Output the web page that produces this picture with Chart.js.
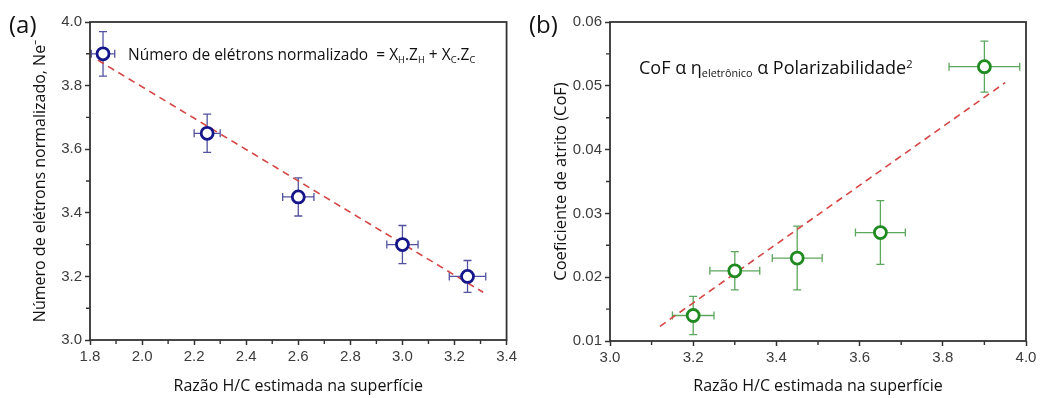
<!DOCTYPE html>
<html>
<head>
<meta charset="utf-8">
<script src="https://cdn.jsdelivr.net/npm/chart.js@4.4.1/dist/chart.umd.min.js"></script>
<style>
  body { margin:0; background:#fff; width:1048px; height:398px; overflow:hidden; position:relative; font-family:'Open Sans', sans-serif; }
  .painel { position:absolute; top:0; height:398px; }
  #painelA { left:0; width:520px; }
  #painelB { left:520px; width:528px; }
  .letra { position:absolute; font-size:24px; color:#111; line-height:1; }
  .nota { position:absolute; color:#111; white-space:nowrap; line-height:1; }
  .nota sub { font-size:60%; vertical-align:-0.3em; }
  .nota sup { font-size:62%; vertical-align:0.5em; }
</style>
</head>
<body>
<div class="painel" id="painelA"><canvas id="graficoA"></canvas></div>
<div class="painel" id="painelB"><canvas id="graficoB"></canvas></div>
<div class="letra" style="left:9px;top:12px">(a)</div>
<div class="letra" style="left:529px;top:12px">(b)</div>
<div class="nota" style="left:128px;top:47px;font-size:15.5px">Número de elétrons normalizado &nbsp;= X<sub>H</sub>.Z<sub>H</sub> + X<sub>C</sub>.Z<sub>C</sub></div>
<div class="nota" style="left:639px;top:58px;font-size:18px">CoF α η<sub>eletrônico</sub> α Polarizabilidade<sup>2</sup></div>
<script>
// (a) número de elétrons normalizado x razão H/C
var razaoA = [1.85, 2.25, 2.60, 3.00, 3.25];
var eletronsA = [3.90, 3.65, 3.45, 3.30, 3.20];
var erroXA = [0.045, 0.05, 0.06, 0.06, 0.07];
var erroYA = [0.07, 0.06, 0.06, 0.06, 0.05];
var ajusteXA = [1.83, 3.31];
var ajusteYA = [3.88, 3.15];

// (b) coeficiente de atrito x razão H/C
var razaoB = [3.20, 3.30, 3.45, 3.65, 3.90];
var cofB = [0.014, 0.021, 0.023, 0.027, 0.053];
var erroXB = [0.05, 0.06, 0.06, 0.06, 0.085];
var erroYB = [0.003, 0.003, 0.005, 0.005, 0.004];
var ajusteXB = [3.12, 3.95];
var ajusteYB = [0.0123, 0.0505];

var tituloX = 'Razão H/C estimada na superfície';

// barras de erro (desenhadas antes dos pontos)
var barrasErro = {
    id: 'barrasErro',
    beforeDatasetsDraw: function(chart, args, o) {
        var ctx = chart.ctx, sx = chart.scales.x, sy = chart.scales.y;
        ctx.save();
        ctx.strokeStyle = o.cor;
        ctx.lineWidth = 1.3;
        o.xs.forEach(function(v, i) {
            var px = sx.getPixelForValue(v), py = sy.getPixelForValue(o.ys[i]);
            var x1 = sx.getPixelForValue(v - o.ex[i]), x2 = sx.getPixelForValue(v + o.ex[i]);
            var y1 = sy.getPixelForValue(o.ys[i] + o.ey[i]), y2 = sy.getPixelForValue(o.ys[i] - o.ey[i]);
            var c = 4;
            ctx.beginPath();
            ctx.moveTo(x1, py); ctx.lineTo(x2, py);
            ctx.moveTo(px, y1); ctx.lineTo(px, y2);
            ctx.moveTo(x1, py - c); ctx.lineTo(x1, py + c);
            ctx.moveTo(x2, py - c); ctx.lineTo(x2, py + c);
            ctx.moveTo(px - c, y1); ctx.lineTo(px + c, y1);
            ctx.moveTo(px - c, y2); ctx.lineTo(px + c, y2);
            ctx.stroke();
        });
        ctx.restore();
    }
};

// moldura + ticks menores
var moldura = {
    id: 'moldura',
    afterDraw: function(chart, args, o) {
        var ctx = chart.ctx, a = chart.chartArea, sx = chart.scales.x, sy = chart.scales.y;
        ctx.save();
        ctx.strokeStyle = '#333';
        ctx.lineWidth = 1.8;
        ctx.strokeRect(a.left, a.top, a.right - a.left, a.bottom - a.top);
        ctx.lineWidth = 1.4;
        ctx.beginPath();
        for (var v = sx.min + o.menorX; v < sx.max; v += 2 * o.menorX) {
            var p = sx.getPixelForValue(v);
            ctx.moveTo(p, a.bottom); ctx.lineTo(p, a.bottom + 4);
        }
        for (var w = sy.min + o.menorY; w < sy.max; w += 2 * o.menorY) {
            var q = sy.getPixelForValue(w);
            ctx.moveTo(a.left, q); ctx.lineTo(a.left - 4, q);
        }
        ctx.stroke();
        ctx.restore();
    }
};

function eixo(min, max, passo, casas, titulo, pad, tam, fonte) {
    return {
        type: 'linear', min: min, max: max,
        border: { display: false },
        grid: { drawOnChartArea: false, drawTicks: true, tickLength: 5, tickColor: '#333', tickWidth: 1.5 },
        ticks: {
            stepSize: passo, autoSkip: false, maxRotation: 0, color: '#3c3c3c', padding: 3,
            font: { family: 'Liberation Sans', size: 15 },
            callback: function(v) { return v.toFixed(casas); }
        },
        title: { display: true, text: titulo, color: '#111', padding: pad, font: { family: 'Open Sans', size: fonte } },
        afterFit: function(s) { if (s.axis === 'y') s.width = 90; else s.height = tam; }
    };
}

function criaGrafico(id, xs, ys, ex, ey, ajX, ajY, corPonto, corBarra, eixoX, eixoY, dir, menorX, menorY) {
    var ctx = document.getElementById(id).getContext('2d');
    return new Chart(ctx, {
        type: 'scatter',
        data: {
            datasets: [{
                type: 'line',
                data: ajX.map(function(x, i) { return { x: x, y: ajY[i] }; }),
                borderColor: '#d64545',
                borderWidth: 1.6,
                borderDash: [7, 5],
                pointRadius: 0,
                order: 2
            }, {
                data: xs.map(function(x, i) { return { x: x, y: ys[i] }; }),
                pointRadius: 6,
                pointBorderWidth: 2.8,
                borderColor: corPonto,
                backgroundColor: '#fff',
                order: 1
            }]
        },
        options: {
            responsive: true,
            maintainAspectRatio: false,
            animation: false,
            layout: { padding: { left: 0, top: 22, right: dir, bottom: 0 } },
            plugins: {
                legend: { display: false },
                tooltip: { enabled: false },
                barrasErro: { xs: xs, ys: ys, ex: ex, ey: ey, cor: corBarra },
                moldura: { menorX: menorX, menorY: menorY }
            },
            scales: { x: eixoX, y: eixoY }
        },
        plugins: [barrasErro, moldura]
    });
}

criaGrafico('graficoA', razaoA, eletronsA, erroXA, erroYA, ajusteXA, ajusteYA, '#16168c', '#5252a0',
    eixo(1.8, 3.4, 0.2, 1, tituloX, 2, 58, 16),
    eixo(3.0, 4.0, 0.2, 1, 'Número de elétrons normalizado, Ne⁻', 31, 0, 16),
    12, 0.1, 0.1);

criaGrafico('graficoB', razaoB, cofB, erroXB, erroYB, ajusteXB, ajusteYB, '#1f8a1f', '#5da65d',
    eixo(3.0, 4.0, 0.2, 1, tituloX, 2, 57, 16),
    eixo(0.01, 0.06, 0.01, 2, 'Coeficiente de atrito (CoF)', 31, 0, 16.5),
    22, 0.1, 0.005);
</script>
</body>
</html>
